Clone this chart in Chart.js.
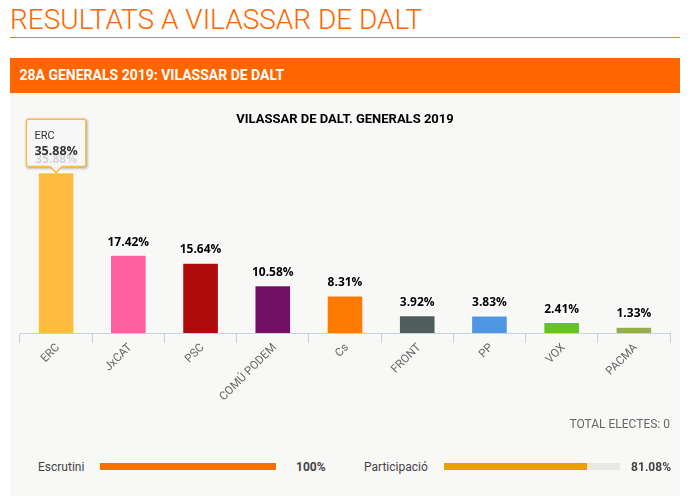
<!DOCTYPE html>
<html>
<head>
<meta charset="utf-8">
<title>Resultats a Vilassar de Dalt</title>
<script src="https://cdn.jsdelivr.net/npm/chart.js@4"></script>
<style>
html, body { margin: 0; padding: 0; background: #fff; overflow: hidden; }
body { width: 692px; height: 496px; position: relative; font-family: Roboto, sans-serif; }
h1 { position: absolute; left: 10px; top: 3px; margin: 0; font-size: 28px; line-height: 34px; font-weight: 300; color: #ff6600; white-space: nowrap; }
#rule { position: absolute; left: 10px; top: 37px; width: 670px; height: 1px; background: #f37a2a; }
#head { position: absolute; left: 10px; top: 58px; width: 670px; height: 35px; background: #ff6600; color: #fff; font-size: 14px; font-weight: 700; line-height: 34px; text-indent: 9.5px; }
#panel { position: absolute; left: 10px; top: 93px; width: 670px; height: 403px; background: #f8f8f6; }
#chartBox { position: absolute; left: 10px; top: 93px; width: 670px; height: 340px; }
.txt { position: absolute; font-size: 12px; line-height: 14px; color: #444; white-space: nowrap; }
.val { font-weight: 700; }
.bar { position: absolute; top: 463px; width: 176px; height: 7px; background: #e8e7e3; }
</style>
</head>
<body>
<h1>RESULTATS A VILASSAR DE DALT</h1>
<div id="rule"></div>
<div id="head">28A GENERALS 2019: VILASSAR DE DALT</div>
<div id="panel"></div>
<div id="chartBox"><canvas id="myChart"></canvas></div>
<div class="txt" style="right:22px;top:417px;color:#666">TOTAL ELECTES: 0</div>
<div class="txt" style="left:38px;top:460px">Escrutini</div>
<div class="bar" style="left:100px"><canvas id="scrutinyBar"></canvas></div>
<div class="txt val" style="left:296px;top:460px">100%</div>
<div class="txt" style="left:364px;top:460px">Participació</div>
<div class="bar" style="left:444px"><canvas id="turnoutBar"></canvas></div>
<div class="txt val" style="right:21px;top:460px">81.08%</div>
<script>
'use strict';

var categories = ["ERC", "JxCAT", "PSC", "COMÚ PODEM", "Cs", "FRONT", "PP", "VOX", "PACMA"];
var votes = [35.88, 17.42, 15.64, 10.58, 8.31, 3.92, 3.83, 2.41, 1.33];
var barColors = ["#fdbb40", "#ff5f9e", "#af0a0a", "#720f66", "#ff7a00", "#4f5d5d", "#4f97e3", "#66c41e", "#95ad4e"];
var scrutiny = [100];
var turnout = [81.08];

var barLabels = {
    id: 'barLabels',
    afterDatasetsDraw: function(chart) {
        var ctx = chart.ctx;
        var bars = chart.getDatasetMeta(0).data;
        ctx.save();
        ctx.font = 'bold 12px "Open Sans"';
        ctx.textAlign = 'center';
        ctx.textBaseline = 'middle';
        ctx.lineJoin = 'round';
        bars.forEach(function(bar, i) {
            var text = votes[i].toFixed(2) + '%';
            ctx.lineWidth = 2;
            ctx.strokeStyle = '#fff';
            ctx.strokeText(text, bar.x, bar.y - 13);
            ctx.fillStyle = '#000';
            ctx.fillText(text, bar.x, bar.y - 13);
        });
        ctx.restore();
    }
};

// shadow only outside the box, the fill is see-through
var tooltipShadow = {
    id: 'tooltipShadow',
    beforeTooltipDraw: function(chart, args) {
        var ctx = chart.ctx;
        var tip = args.tooltip;
        ctx.save();
        ctx.beginPath();
        ctx.rect(0, 0, chart.width, chart.height);
        ctx.rect(tip.x, tip.y, tip.width, tip.height);
        ctx.clip('evenodd');
        ctx.shadowColor = 'rgba(0,0,0,0.4)';
        ctx.shadowBlur = 3;
        ctx.shadowOffsetX = 1;
        ctx.shadowOffsetY = 1;
        ctx.fillStyle = '#fff';
        ctx.fillRect(tip.x, tip.y, tip.width, tip.height);
        ctx.restore();
    }
};

var ctx = document.getElementById("myChart");
var myChart = new Chart(ctx, {
    type: 'bar',
    data: {
        labels: categories,
        datasets: [{
            label: 'Vots',
            data: votes,
            backgroundColor: barColors,
            borderColor: '#fff',
            borderWidth: 1,
            barThickness: 36
        }]
    },
    plugins: [barLabels, tooltipShadow],
    options: {
        responsive: true,
        maintainAspectRatio: false,
        animation: false,
        events: [],
        layout: { padding: { left: 10, right: 10, top: 0, bottom: 0 } },
        plugins: {
            legend: { display: false },
            title: {
                display: true,
                text: 'VILASSAR DE DALT. GENERALS 2019',
                color: '#000',
                font: { family: 'Roboto', size: 13, weight: 'bold' },
                padding: { top: 19, bottom: 27 }
            },
            tooltip: {
                enabled: true,
                yAlign: 'bottom',
                xAlign: 'center',
                caretSize: 6,
                caretPadding: 0,
                cornerRadius: 2,
                displayColors: false,
                backgroundColor: 'rgba(247,247,247,0.85)',
                borderColor: '#fdbb40',
                borderWidth: 1.5,
                padding: { left: 8, right: 8, top: 10, bottom: 8 },
                titleColor: '#333',
                titleFont: { family: 'Roboto', size: 11, weight: 'normal' },
                titleMarginBottom: 1,
                bodyColor: '#333',
                bodyFont: { family: '"Open Sans"', size: 12.5, weight: 'bold' },
                callbacks: {
                    label: function(item) {
                        return item.raw.toFixed(2) + '%';
                    }
                }
            }
        },
        scales: {
            x: {
                offset: true,
                afterFit: function(scale) { scale.height = 100; },
                grid: { drawOnChartArea: false, drawTicks: true, tickLength: 10, color: '#c6d2e2', offset: true },
                border: { color: '#c6d2e2', width: 1 },
                ticks: {
                    autoSkip: false,
                    minRotation: 45,
                    maxRotation: 45,
                    padding: -2,
                    labelOffset: 2,
                    color: '#666',
                    font: { family: 'Roboto', size: 11.5 }
                }
            },
            y: { display: false, min: 0, max: 39.9 }
        }
    }
});
myChart.tooltip.setActiveElements([{ datasetIndex: 0, index: 0 }], { x: 0, y: 0 });
myChart.update();

function progressBar(id, values, color) {
    return new Chart(document.getElementById(id), {
        type: 'bar',
        data: { labels: [''], datasets: [{ data: values, backgroundColor: color, barPercentage: 1, categoryPercentage: 1 }] },
        options: {
            indexAxis: 'y',
            responsive: true,
            maintainAspectRatio: false,
            animation: false,
            events: [],
            plugins: { legend: { display: false }, tooltip: { enabled: false } },
            scales: { x: { display: false, min: 0, max: 100 }, y: { display: false } }
        }
    });
}
progressBar("scrutinyBar", scrutiny, '#f37300');
progressBar("turnoutBar", turnout, '#e9a000');
</script>
</body>
</html>
